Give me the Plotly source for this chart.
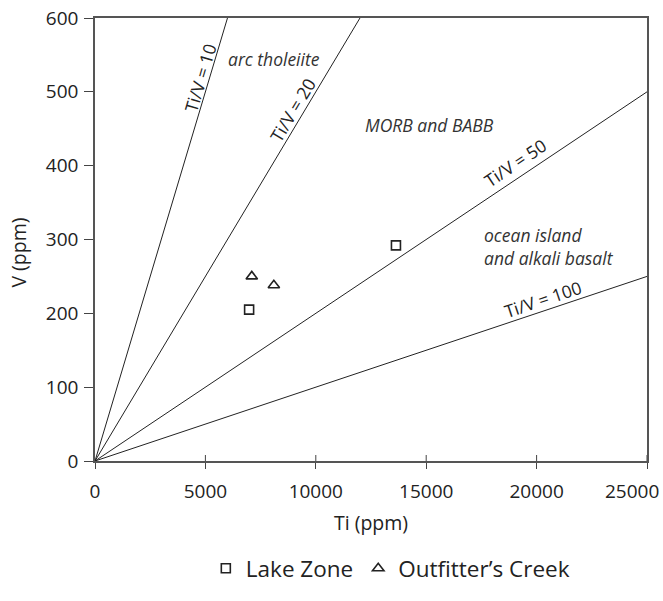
import math
import plotly.graph_objects as go

# ---- data ----
lake_ti = [6980, 13630]
lake_v = [205, 292]
creek_ti = [7100, 8100]
creek_v = [250, 238]

ratios = [10, 20, 50, 100]
ratio_labels = ["Ti/V = 10", "Ti/V = 20", "Ti/V = 50", "Ti/V = 100"]
ratio_label_pos = [(4750, 519), (8950, 475), (19000, 404), (20290, 219)]

field_labels = ["arc tholeiite", "MORB and BABB", "ocean island<br>and alkali basalt"]
field_label_pos = [(8100, 545), (15170, 455), (17520, 291)]

x_max, y_max = 25000, 600
x_ticks = [0, 5000, 10000, 15000, 20000, 25000]
y_ticks = [0, 100, 200, 300, 400, 500, 600]

FONT = "'Open Sans', Lato, sans-serif"

fig = go.Figure()

# reference lines Ti/V = const
for r in ratios:
    x_end = min(x_max, y_max * r)
    fig.add_trace(go.Scatter(
        x=[0, x_end], y=[0, x_end / r], mode="lines",
        line=dict(color="#222", width=1), showlegend=False, hoverinfo="skip"))

fig.add_trace(go.Scatter(
    x=lake_ti, y=lake_v, mode="markers", name="Lake Zone",
    marker=dict(symbol="square-open", size=9, color="#222", line=dict(width=1.6))))
fig.add_trace(go.Scatter(
    x=creek_ti, y=creek_v, mode="markers", name="Outfitter\u2019s Creek",
    marker=dict(symbol="triangle-up-open", size=10, color="#222", line=dict(width=1.6))))

# plot geometry in px for label angles
L, R, T, B = 95, 16, 18, 140
W, H = 663, 601
pw, ph = W - L - R, H - T - B
for r, lab, (lx, ly) in zip(ratios, ratio_labels, ratio_label_pos):
    ang = math.degrees(math.atan((ph / y_max) / (pw / x_max) / r))
    fig.add_annotation(x=lx, y=ly, text=lab, showarrow=False, textangle=-ang,
                       font=dict(family=FONT, size=17.5, color="#222"))

for i, (lab, (lx, ly)) in enumerate(zip(field_labels, field_label_pos)):
    fig.add_annotation(x=lx, y=ly, text="<i>" + lab + "</i>", showarrow=False,
                       xanchor="left" if i == 2 else "center", align="left",
                       font=dict(family=FONT, size=17.5, color="#333"))

fig.add_annotation(xref="paper", yref="paper", x=-0.138, y=0.47, text="V (ppm)",
                   textangle=-90, showarrow=False, xanchor="center", yanchor="middle",
                   font=dict(family=FONT, size=19.5, color="#222"))

# x ticks cross the axis line (short marks above the axis as well)
for xt in x_ticks[1:]:
    fig.add_shape(type="line", xref="x", yref="y", x0=xt, x1=xt,
                  ysizemode="pixel", yanchor=0, y0=0, y1=6,
                  line=dict(color="#444", width=1))

# last x label is kept inside the page (shifted left like the original)
x_ticktext = [str(v) for v in x_ticks]
last_label = x_ticktext[-1]
x_ticktext[-1] = ""
fig.add_annotation(x=x_ticks[-1], xref="x", y=-0.068, yref="paper", text=last_label,
                   showarrow=False, xanchor="right", yanchor="middle", xshift=14,
                   font=dict(family=FONT, size=19, color="#222"))

fig.update_layout(
    width=W, height=H,
    margin=dict(l=L, r=R, t=T, b=B, autoexpand=False),
    paper_bgcolor="white", plot_bgcolor="white",
    font=dict(family=FONT, size=18, color="#222"),
    xaxis=dict(range=[0, x_max], tickvals=x_ticks, ticktext=x_ticktext,
               showgrid=False, zeroline=False, automargin=False,
               showline=True, linecolor="#555", linewidth=1.5, mirror=True,
               ticks="outside", ticklen=6, tickcolor="#444", ticklabelstandoff=6,
               title=dict(text="Ti (ppm)", font=dict(size=19.5), standoff=14),
               tickfont=dict(size=19)),
    yaxis=dict(range=[0, y_max], tickvals=y_ticks, ticktext=[str(v) for v in y_ticks],
               showgrid=False, zeroline=False, automargin=False,
               showline=True, linecolor="#555", linewidth=1.5, mirror=True,
               ticks="outside", ticklen=9, tickcolor="#444", ticklabelstandoff=2,
               tickfont=dict(size=19)),
    legend=dict(orientation="h", x=0.535, xanchor="center", y=-0.243, yanchor="middle",
                font=dict(size=22.5), traceorder="normal"),
)

fig.write_html("out.html")
